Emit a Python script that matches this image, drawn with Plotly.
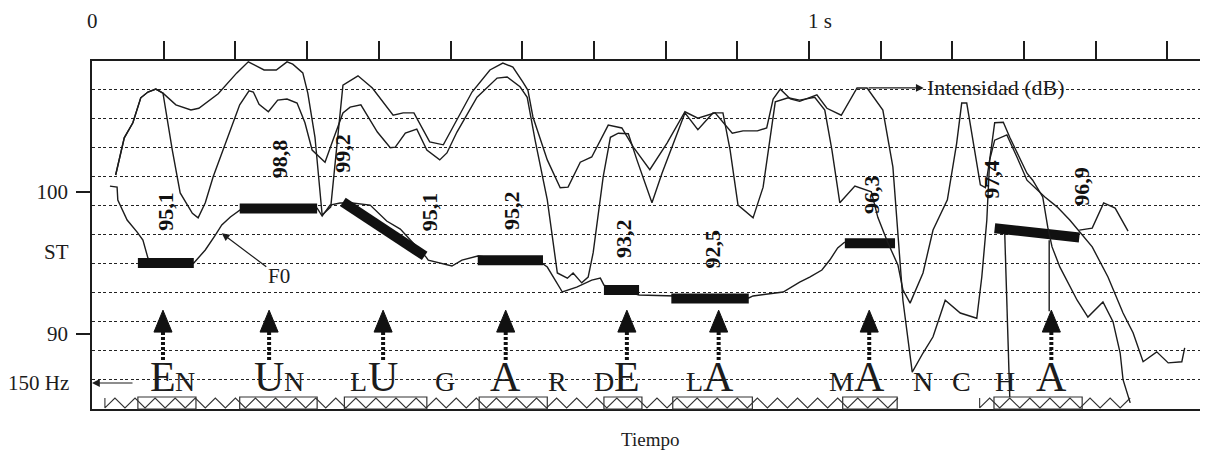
import plotly.graph_objects as go

# ---------------- data (time in ms) ----------------
# Intensity contour, upper trace (dB)
int_u_ms = [33, 45, 57, 68, 78, 89, 99, 117, 138, 149, 176, 202, 218, 240, 257, 272, 280,
            294, 301, 311, 321, 333, 350, 371, 391, 420, 434, 449, 471, 490, 530, 555, 573,
            587, 601, 608, 615, 635, 653, 664, 681, 697, 720, 739, 755, 778, 802, 827, 845,
            869, 893, 908, 928, 941, 950, 960, 974, 987, 1011, 1025, 1045, 1067, 1081, 1103,
            1117, 1124, 1131, 1144, 1159, 1173, 1190, 1211, 1234, 1241, 1248, 1252, 1259,
            1271, 1280, 1304, 1312, 1326, 1333, 1339, 1350, 1374, 1389, 1410, 1424, 1434,
            1438, 1448]
int_u_db = [65.2, 71.6, 74.2, 78.5, 79.5, 80.0, 79.3, 77.3, 76.4, 76.7, 79.2, 82.8, 84.7,
            83.3, 83.3, 84.7, 84.3, 82.8, 79.3, 71.7, 58.3, 59.7, 80.7, 82.3, 80.2, 75.5,
            75.9, 75.9, 70.9, 70.4, 79.5, 83.3, 84.5, 83.8, 81.2, 79.8, 75.2, 67.8, 63.0,
            63.1, 67.4, 68.3, 73.8, 73.3, 70.0, 66.1, 70.7, 76.1, 75.0, 75.9, 72.4, 72.8,
            72.8, 73.3, 78.3, 80.0, 78.3, 77.9, 79.0, 76.7, 75.5, 80.2, 80.2, 76.4, 66.6,
            55.7, 43.6, 31.2, 34.5, 37.3, 43.6, 41.4, 40.5, 47.6, 57.4, 67.8, 74.2, 74.3,
            71.7, 65.5, 64.3, 61.4, 56.2, 52.8, 49.3, 43.6, 40.7, 43.3, 39.9, 34.5, 29.9, 25.9]

# Intensity contour, lower trace (dB)
int_l_ms = [33, 45, 57, 68, 78, 89, 99, 112, 123, 140, 148, 158, 169, 184, 206, 219, 225,
            233, 246, 259, 272, 286, 297, 307, 325, 336, 350, 360, 375, 398, 416, 423, 437,
            453, 467, 485, 495, 509, 537, 565, 579, 597, 607, 618, 635, 649, 663, 671, 683,
            692, 699, 713, 723, 734, 748, 760, 781, 795, 813, 827, 845, 866, 880, 890, 901,
            922, 936, 943, 953, 971, 987, 1008, 1022, 1032, 1043, 1064, 1087, 1096, 1110,
            1124, 1131, 1141, 1159, 1173, 1193, 1206, 1213, 1220, 1229, 1239, 1246, 1252,
            1259, 1276, 1290, 1304, 1329, 1346, 1364, 1378, 1395, 1417, 1438, 1452, 1466,
            1485, 1501, 1520, 1524]
int_l_db = [65.2, 71.6, 74.2, 78.5, 79.5, 80.0, 79.3, 69.5, 62.1, 58.6, 57.8, 60.4, 64.9,
            69.9, 77.3, 79.7, 79.5, 77.4, 76.1, 78.1, 78.3, 77.6, 74.2, 69.5, 67.4, 71.2,
            75.9, 76.9, 77.3, 72.6, 69.9, 70.0, 72.4, 73.1, 69.5, 67.8, 69.0, 72.6, 78.6,
            81.9, 82.1, 80.4, 78.6, 71.2, 60.9, 48.3, 47.4, 48.3, 46.6, 47.6, 51.8, 64.9,
            71.7, 72.4, 72.3, 67.8, 60.4, 65.5, 71.2, 75.9, 73.0, 75.9, 75.9, 69.5, 60.0,
            57.8, 63.1, 69.5, 77.8, 78.5, 78.1, 78.6, 76.4, 69.5, 60.4, 63.3, 62.3, 57.9,
            53.5, 49.7, 45.4, 43.1, 48.3, 55.7, 60.9, 70.7, 77.6, 77.6, 70.7, 63.5, 63.0,
            67.8, 71.2, 72.1, 68.3, 64.3, 61.4, 59.7, 57.4, 55.4, 52.8, 47.6, 41.4, 38.0,
            33.0, 34.7, 32.8, 33.0, 35.4]

# F0 contour (semitones)
f0_ms = [25, 35, 36, 49, 63, 71, 78, 82, 142, 158, 172, 181, 193, 208, 314, 321, 332, 346,
         363, 374, 388, 411, 430, 466, 469, 502, 516, 538, 629, 635, 656, 676, 697, 709,
         714, 763, 808, 916, 922, 964, 987, 1001, 1018, 1029, 1040, 1050, None, 1377, 1395,
         1411, 1427, 1445]
f0_st = [100.42, 100.35, 99.44, 98.03, 97.18, 96.62, 95.35, 95.0, 95.0, 95.92, 96.97,
         97.68, 98.24, 98.80, 98.87, 98.31, 99.08, 99.23, 99.23, 99.15, 99.08, 97.96, 97.39,
         95.42, 95.21, 94.79, 95.21, 95.49, 94.93, 94.72, 92.96, 93.31, 93.80, 93.94, 93.45,
         92.75, 92.68, 92.54, 92.68, 92.96, 93.66, 94.01, 94.51, 95.21, 96.06, 96.48, None,
         97.32, 97.46, 99.23, 98.87, 97.25]

# Stylised vowel F0 levels (thick bars)
bar_t0 = [64, 206, 350, 538, 714, 808, 1050, 1259]
bar_t1 = [142, 314, 464, 629, 763, 916, 1120, 1377]
bar_st0 = [95.0, 98.85, 99.3, 95.2, 93.1, 92.5, 96.4, 97.45]
bar_st1 = [95.0, 98.85, 95.5, 95.2, 93.1, 92.5, 96.4, 96.8]

# Value labels
value_ms = [102, 261, 349, 471, 584, 741, 866, 1087, 1255, 1379]
value_st = [95.1, 98.8, 99.2, 95.1, 95.2, 93.2, 92.5, 96.3, 97.4, 96.9]

# Vowel boxes on the time line
box_t0 = [64, 206, 352, 540, 714, 810, 1047, 1258]
box_t1 = [145, 314, 467, 635, 767, 921, 1123, 1381]

# Voiced stretches (zigzag)
voiced_t0 = [18, 1238]
voiced_t1 = [1134, 1457]

# Segment letters
letters = ["E", "N", "U", "N", "L", "U", "G", "A", "R", "D", "E", "L", "A",
           "M", "A", "N", "C", "H", "A"]
letter_ms = [99, 130, 247, 282, 371, 406, 492, 577, 649, 714, 746, 841, 874,
             1046, 1084, 1159, 1213, 1273, 1338]
letter_big = [1, 0, 1, 0, 0, 1, 0, 1, 0, 0, 1, 0, 1, 0, 1, 0, 0, 0, 1]

# Vertical marks
mark_t0 = [1273, 1335]
mark_t1 = [1280, 1335]
mark_st0 = [97.1, 96.6]
mark_st1 = [85.56, 91.6]

top_ticks = list(range(100, 1501, 100))

# ---------------- figure ----------------
FONT = "Liberation Serif"
INK = "#1c1c1c"

fig = go.Figure()

fig.add_trace(go.Scatter(x=int_u_ms, y=int_u_db, yaxis="y2", mode="lines",
                         line=dict(color=INK, width=1.4), hoverinfo="skip"))
fig.add_trace(go.Scatter(x=int_l_ms, y=int_l_db, yaxis="y2", mode="lines",
                         line=dict(color=INK, width=1.4), hoverinfo="skip"))
fig.add_trace(go.Scatter(x=f0_ms, y=f0_st, mode="lines", connectgaps=False,
                         line=dict(color=INK, width=1.4), hoverinfo="skip"))

bx, by = [], []
for a, b, s0, s1 in zip(bar_t0, bar_t1, bar_st0, bar_st1):
    bx += [a, b, None]
    by += [s0, s1, None]
fig.add_trace(go.Scatter(x=bx, y=by, mode="lines", line=dict(color="#111", width=10),
                         hoverinfo="skip"))

mx, my = [], []
for a, b, s0, s1 in zip(mark_t0, mark_t1, mark_st0, mark_st1):
    mx += [a, b, None]
    my += [s0, s1, None]
fig.add_trace(go.Scatter(x=mx, y=my, mode="lines", line=dict(color=INK, width=1.4),
                         hoverinfo="skip"))

# zigzag (decorative voicing symbol) in plot-fraction units
ZHI, ZLO, ZHALF = 0.0316, 0.003, 14
zx, zy = [], []
for a, b in zip(voiced_t0, voiced_t1):
    zx += [a, a]
    zy += [ZHI, ZLO]
    n = int((b - a) // ZHALF)
    for i in range(1, n + 1):
        zx.append(a + i * ZHALF)
        zy.append(ZHI if i % 2 else ZLO)
    zx.append(None)
    zy.append(None)
fig.add_trace(go.Scatter(x=zx, y=zy, yaxis="y3", mode="lines",
                         line=dict(color="#333", width=1.1), hoverinfo="skip"))

# stress arrows above the stressed vowels
big_ms = [t for t, g in zip(letter_ms, letter_big) if g]
sx, sy, hx, hy = [], [], [], []
for t in big_ms:
    sx += [t, t, None]
    sy += [0.141, 0.222, None]
    hx += [t - 12.6, t + 12.6, t, t - 12.6, None]
    hy += [0.221, 0.221, 0.284, 0.221, None]
fig.add_trace(go.Scatter(x=sx, y=sy, yaxis="y3", mode="lines",
                         line=dict(color="#111", width=4, dash="3px,2px"), hoverinfo="skip"))
fig.add_trace(go.Scatter(x=hx, y=hy, yaxis="y3", mode="lines", fill="toself",
                         fillcolor="#111", line=dict(color="#111", width=1),
                         hoverinfo="skip"))

shapes = []
for a, b in zip(box_t0, box_t1):
    shapes.append(dict(type="rect", xref="x", yref="paper", x0=a, x1=b, y0=0, y1=0.0345,
                       line=dict(color="#333", width=1.2), fillcolor="rgba(0,0,0,0)"))

ann = []
for t, txt, g in zip(letter_ms, letters, letter_big):
    size = 42 if g else 28
    ann.append(dict(x=t, y=0, xref="x", yref="paper", text=txt, showarrow=False,
                    xanchor="center", yanchor="bottom", yshift=16 - 0.22 * size,
                    font=dict(family=FONT, size=size, color=INK)))

for t, v in zip(value_ms, value_st):
    ann.append(dict(x=t, y=v, xref="x", yref="y", text=f"{v:.1f}".replace(".", ","),
                    showarrow=False, textangle=-90, yshift=50,
                    font=dict(family=FONT, size=22, color="#111", weight="bold")))

# F0 label
ann.append(dict(x=181, y=97.1, xref="x", yref="y", text="F0", showarrow=True,
                ax=57, ay=43, arrowhead=2, arrowsize=1.3, arrowwidth=1.2, arrowcolor=INK,
                font=dict(family=FONT, size=21, color=INK)))
# Intensity label
ann.append(dict(x=1160, y=80.2, xref="x", yref="y2", axref="x", ayref="y2", ax=1081,
                ay=80.2, text="", showarrow=True, arrowhead=2, arrowsize=1.3,
                arrowwidth=1.2, arrowcolor=INK))
ann.append(dict(x=1162, y=80.2, xref="x", yref="y2", text="Intensidad (dB)",
                showarrow=False, xanchor="left", yanchor="middle",
                font=dict(family=FONT, size=22, color=INK)))
# 150 Hz reference
ann.append(dict(x=0, y=0.0747, xref="x", yref="paper", ax=42, ay=0, text="",
                showarrow=True, arrowhead=2, arrowsize=1.3, arrowwidth=1.2, arrowcolor=INK))
ann.append(dict(x=-0.0188, y=0.0747, xref="paper", yref="paper", text="150 Hz",
                showarrow=False, xanchor="right", yanchor="middle",
                font=dict(family=FONT, size=21, color=INK)))
ann.append(dict(x=-0.0188, y=0.451, xref="paper", yref="paper", text="ST",
                showarrow=False, xanchor="right", yanchor="middle",
                font=dict(family=FONT, size=21, color=INK)))
ann.append(dict(x=0.5, y=-0.088, xref="paper", yref="paper", text="Tiempo",
                showarrow=False, xanchor="center", yanchor="middle",
                font=dict(family=FONT, size=19, color=INK)))
ann.append(dict(x=0, y=1.115, xref="x", yref="paper", text="0", showarrow=False,
                xanchor="center", yanchor="middle", font=dict(family=FONT, size=21, color=INK)))
ann.append(dict(x=1000, y=1.115, xref="x", yref="paper", text="1 s", showarrow=False,
                xanchor="left", yanchor="middle", xshift=-3,
                font=dict(family=FONT, size=21, color=INK)))

# The page body adds an 8 px offset, so the figure is 8 px smaller on each side.
fig.update_layout(
    width=1200, height=442,
    margin=dict(l=84, r=0, t=53, b=41),
    paper_bgcolor="white", plot_bgcolor="white",
    showlegend=False,
    xaxis=dict(range=[0, 1556.5], side="top", showline=True, mirror=True,
               linecolor=INK, linewidth=1.5, ticks="outside", ticklen=18, tickwidth=1.5,
               tickcolor=INK, tickvals=top_ticks, showticklabels=False,
               showgrid=False, zeroline=False),
    yaxis=dict(range=[84.72, 109.23], showline=True, linecolor=INK, linewidth=1.5,
               ticks="outside", ticklen=14, tickwidth=1.5, tickcolor=INK,
               tickvals=[90, 100], ticktext=["90", "100"], ticklabelstandoff=4,
               tickfont=dict(family=FONT, size=21, color=INK),
               showgrid=False, zeroline=False),
    yaxis2=dict(range=[24.85, 84.85], overlaying="y", side="right",
                tickvals=[30, 35, 40, 45, 50, 55, 60, 65, 70, 75, 80],
                showgrid=True, gridcolor="#222", gridwidth=1.4, griddash="3px,2.5px",
                showticklabels=False, ticks="", showline=False, zeroline=False),
    yaxis3=dict(range=[0, 1], overlaying="y", visible=False),
    shapes=shapes,
    annotations=ann,
)

fig.write_html("out.html")
